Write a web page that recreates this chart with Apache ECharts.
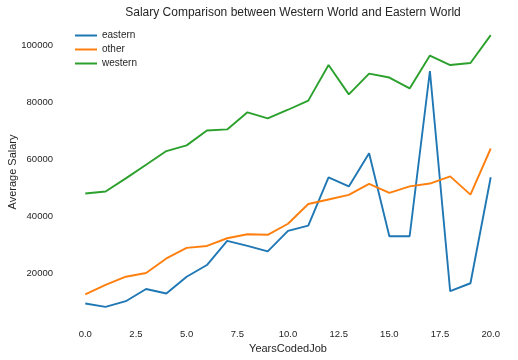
<!DOCTYPE html>
<html><head><meta charset="utf-8">
<script src="https://cdn.jsdelivr.net/npm/echarts@6/dist/echarts.min.js"></script>
<style>html,body{margin:0;padding:0;background:#fff}#c{width:518px;height:360px}</style>
</head><body><div id="c"></div>
<script>
var years = [0,1,2,3,4,5,6,7,8,9,10,11,12,13,14,15,16,17,18,19,20];
var eastern = [9500,8300,10300,14600,13000,18900,23000,31500,29700,27800,35000,36800,53800,50600,62200,33100,33100,91100,13800,16600,53800];
var other = [12700,16000,18900,20200,25300,29000,29700,32400,33800,33600,37500,44400,46000,47600,51500,48300,50600,51600,54100,47700,63900];
var western = [48100,48800,53400,58200,63000,65000,70200,70600,76600,74500,77500,80700,93200,82900,90200,88800,85000,96500,93200,93900,103700];
var xTicks = [0,2.5,5,7.5,10,12.5,15,17.5,20];
var yTicks = [20000,40000,60000,80000,100000];
var seriesNames = ['eastern','other','western'];
var colors = ['#1f77b4','#ff7f0e','#2ca02c'];

var font = '"Liberation Sans", Arial, sans-serif';
var txt = '#262626';
function mk(name, vals, i){
  return {name:name, type:'line', data: years.map(function(y,k){return [y, vals[k]];}),
    showSymbol:false, symbol:'none', lineStyle:{width:1.9, color:colors[i]}, itemStyle:{color:colors[i]}, animation:false};
}
var chart = echarts.init(document.getElementById('c'), null, {renderer:'canvas'});
chart.setOption({
  animation:false,
  backgroundColor:'#fff',
  title:{text:'Salary Comparison between Western World and Eastern World', left:288, textAlign:'center', top:2,
    textStyle:{fontFamily:font, fontSize:12, fontWeight:'normal', color:txt}},
  legend:{orient:'vertical', left:70, top:25, itemWidth:22, itemHeight:2, itemGap:3, icon:'rect',
    textStyle:{fontFamily:font, fontSize:10, color:txt, lineHeight:11}, data:seriesNames},
  grid:{left:65, right:7, top:22, bottom:38, containLabel:false, outerBoundsMode:'none'},
  xAxis:{type:'value', min:-1, max:21, name:'YearsCodedJob', nameLocation:'middle', nameGap:21,
    nameMoveOverlap:false,
    nameTextStyle:{fontFamily:font, fontSize:11, color:txt},
    axisLine:{show:false}, axisTick:{show:false}, splitLine:{show:false},
    axisLabel:{customValues:xTicks, fontFamily:font, fontSize:9.5, color:txt, margin:7,
      formatter:function(v){return v.toFixed(1);}}},
  yAxis:{type:'value', min:3000, max:108300, name:'Average Salary', nameLocation:'middle', nameGap:47,
    nameMoveOverlap:false,
    nameTextStyle:{fontFamily:font, fontSize:11, color:txt},
    axisLine:{show:false}, axisTick:{show:false}, splitLine:{show:false},
    axisLabel:{customValues:yTicks, fontFamily:font, fontSize:9.5, color:txt, margin:12,
      formatter:function(v){return String(v);}}},
  series:[mk('eastern',eastern,0), mk('other',other,1), mk('western',western,2)]
});
</script></body></html>
